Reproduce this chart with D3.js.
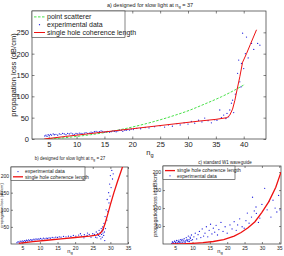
<!DOCTYPE html>
<html>
<head>
<meta charset="utf-8">
<script src="https://cdn.jsdelivr.net/npm/d3@7"></script>
<style>
  body { margin: 0; background: #fff; }
  svg { display: block; font-family: "Liberation Sans", Arial, sans-serif; }
</style>
</head>
<body>
<div id="chart"></div>
<script>
// ---- panel a: designed for slow light at ng = 37
const aTicksX = [5, 10, 15, 20, 25, 30, 35, 40];
const aTicksY = [0, 50, 100, 150, 200, 250];
const aPoint = [[4.5,0],[7,2],[10,6],[12.5,10],[15,15],[17.5,21],[20,28],[22.5,36],[25,45],[27.5,55],[30,66],[33,82],[36,99],[38,112],[40.2,128]];
const aExp = [[4.3,7],[4.5,9],[4.7,6],[4.9,10],[5.1,8],[5.3,11],[5.5,9],[5.8,12],[6.0,10],[6.3,11],[6.6,9],[6.9,12],[7.2,11],[7.5,13],[7.8,12],[8.1,10],[8.4,13],[8.7,12],[9.0,14],[9.3,12],[9.6,11],[9.9,13],[10.2,12],[10.5,14],[10.8,13],[11.1,12],[11.4,14],[11.7,15],[12.0,13],[12.3,14],[12.6,16],[12.9,15],[13.2,17],[13.5,18],[13.8,16],[14.1,17],[14.4,19],[14.7,18],[15.0,16],[15.3,17],[15.6,18],[15.9,16],[16.2,17],[16.5,19],[16.8,18],[17.1,17],[17.4,19],[17.7,21],[18.0,20],[18.3,18],[18.6,21],[18.9,20],[19.2,22],[19.5,21],[19.8,23],[20.2,22],[20.8,25],[21.5,24],[22.3,27],[23.0,26],[24.0,29],[25.0,31],[25.8,28],[26.5,33],[27.2,30],[28.0,36],[28.6,33],[29.3,38],[30.0,35],[30.6,41],[31.2,37],[31.9,44],[32.5,40],[33.0,49],[33.6,43],[34.2,38],[34.8,45],[35.2,44],[35.7,68],[36.0,50],[36.4,56],[36.8,48],[37.0,60],[37.3,52],[37.5,68],[37.8,84],[38.0,91],[38.2,62],[38.5,105],[38.9,154],[39.1,185],[39.3,134],[39.5,122],[39.6,177],[39.8,248],[40.0,165],[40.3,200],[40.5,239],[40.8,190],[41.4,224],[41.8,210],[42.5,224],[42.9,220]];
const aHole = [[4.2,0],[8,6],[12,12],[16,18],[20,24],[24,30],[28,36],[32,42],[35,46],[37,50],[37.5,56],[38,70],[38.4,90],[38.8,115],[39.3,146],[39.8,180],[40.5,200],[41.2,222],[42.3,256]];

// ---- panel b: designed for slow light at ng = 27
const bTicksX = [5, 10, 15, 20, 25, 30, 35];
const bTicksY = [50, 100, 150, 200];
const bExp = [[3.5,4],[3.8,7],[4.1,5],[4.4,8],[4.7,6],[5.0,9],[5.3,7],[5.6,10],[5.9,8],[6.2,11],[6.5,9],[6.8,12],[7.1,10],[7.4,13],[7.7,11],[8.0,12],[8.3,14],[8.6,12],[8.9,15],[9.2,13],[9.5,15],[9.8,14],[10.2,16],[10.6,14],[11.0,17],[11.4,15],[11.8,17],[12.2,16],[12.6,18],[13.0,17],[13.5,19],[14.0,18],[14.5,20],[15.0,19],[15.5,21],[16.0,20],[16.7,22],[17.4,21],[18.1,23],[18.8,22],[19.5,25],[20.2,23],[21.0,26],[21.5,30],[21.8,24],[22.5,18],[22.6,27],[23.4,25],[23.5,32],[24.0,28],[24.5,20],[25.0,30],[25.5,28],[25.8,20],[26.0,35],[26.2,18],[26.4,30],[26.6,25],[26.8,40],[27.0,22],[27.1,33],[27.3,15],[27.4,45],[27.5,28],[27.6,38],[27.7,20],[27.8,50],[27.9,32],[28.0,42],[28.1,25],[28.2,60],[28.3,35],[28.4,10],[28.5,80],[28.6,45],[28.8,100],[29.0,70],[29.1,130],[29.3,95],[29.5,150],[29.6,120],[29.8,175],[29.9,140],[30.0,200],[30.2,165],[30.4,215],[30.6,190],[30.8,205]];
const bHole = [[4,2],[8,7],[12,11],[16,15],[20,19],[24,23],[26,26],[27,30],[27.8,40],[28.5,60],[29.2,85],[30,115],[31,150],[32,182],[33,212],[33.6,230]];

// ---- panel c: standard W1 waveguide
const cTicksX = [5, 10, 15, 20, 25, 30, 35];
const cTicksY = [50, 100, 150, 200];
const cExp = [[4.0,2],[4.2,6],[4.3,5],[4.5,3],[4.6,1],[4.8,8],[4.9,7],[5.1,4],[5.2,3],[5.4,10],[5.5,9],[5.7,2],[5.8,4],[6.0,7],[6.1,11],[6.3,5],[6.4,6],[6.6,12],[6.7,3],[6.9,9],[7.0,13],[7.2,4],[7.3,8],[7.5,11],[7.6,15],[7.8,6],[7.9,5],[8.1,9],[8.2,18],[8.4,13],[8.5,10],[8.7,7],[8.8,22],[9.0,12],[9.1,7],[9.3,19],[9.4,16],[9.6,10],[9.7,25],[10.0,12],[10.4,20],[10.8,30],[11.2,14],[11.6,26],[12.0,35],[12.4,18],[12.8,42],[13.2,22],[13.6,30],[14.0,48],[14.4,20],[14.8,38],[15.2,55],[15.6,28],[16.0,44],[16.4,33],[16.8,52],[17.2,25],[17.6,40],[18.2,60],[18.8,35],[19.4,48],[20.0,30],[20.8,53],[21.4,42],[22.0,62],[22.6,38],[23.0,53],[23.6,70],[24.3,48],[24.9,44],[25.4,65],[25.8,86],[26.3,58],[27.0,75],[27.3,130],[27.8,92],[28.3,103],[28.4,85],[29.0,60],[29.4,72],[30.0,110],[30.8,155],[31.5,95],[32.0,118],[32.6,75],[33.2,122],[33.8,100],[34.3,89],[34.8,135],[35.2,95]];
const cHole = [[4,0],[7,0.5],[10,2],[13,4],[16,7],[19,12],[22,22],[24,32],[26,45],[28,62],[30,88],[32,118],[34,158],[35.5,200]];

const svg = d3.select("#chart").append("svg")
    .attr("width", 284)
    .attr("height", 256);

let clipId = 0;

// write "n" with a subscript "g" inside a text element
function ng(sel, size) {
    sel.append("tspan").text("n");
    sel.append("tspan").attr("dy", "0.3em").style("font-size", (size * 0.75) + "px").text("g");
    return sel;
}

function drawPanel(p) {
    const x = d3.scaleLinear().domain(p.xDomain).range([p.left, p.right]);
    const y = d3.scaleLinear().domain(p.yDomain).range([p.bottom, p.top]);
    const g = svg.append("g");

    // clip to the axes box
    const id = "clip" + (clipId++);
    g.append("clipPath").attr("id", id)
        .append("rect")
        .attr("x", p.left).attr("y", p.top)
        .attr("width", p.right - p.left).attr("height", p.bottom - p.top);

    // axes, MATLAB style ticks pointing inward on all sides
    const tick = p.tick;
    const styleAxis = sel => {
        sel.select(".domain").remove();
        sel.selectAll("line").attr("stroke", "#333").attr("stroke-width", 0.6);
        sel.selectAll("text").attr("fill", "#222").style("font-size", p.tickFont + "px");
    };
    g.append("g")
        .attr("transform", `translate(0,${p.bottom})`)
        .call(d3.axisBottom(x).tickValues(p.ticksX).tickSize(-tick).tickPadding(p.padX))
        .call(styleAxis);
    g.append("g")
        .attr("transform", `translate(0,${p.top})`)
        .call(d3.axisTop(x).tickValues(p.ticksX).tickSize(-tick).tickFormat(""))
        .call(styleAxis);
    g.append("g")
        .attr("transform", `translate(${p.left},0)`)
        .call(d3.axisLeft(y).tickValues(p.ticksY).tickSize(-tick).tickPadding(p.padY))
        .call(styleAxis);
    g.append("g")
        .attr("transform", `translate(${p.right},0)`)
        .call(d3.axisRight(y).tickValues(p.ticksY).tickSize(-tick).tickFormat(""))
        .call(styleAxis);

    g.append("rect")
        .attr("x", p.left).attr("y", p.top)
        .attr("width", p.right - p.left).attr("height", p.bottom - p.top)
        .attr("fill", "none").attr("stroke", "#333").attr("stroke-width", 0.7);

    const plot = g.append("g").attr("clip-path", `url(#${id})`);
    const line = d3.line().x(d => x(d[0])).y(d => y(d[1])).curve(d3.curveMonotoneX);

    if (p.point) {
        plot.append("path").datum(p.point)
            .attr("fill", "none").attr("stroke", "#33dd33")
            .attr("stroke-width", 0.9).attr("stroke-dasharray", "2.5,1.5")
            .attr("d", line);
    }
    plot.selectAll("circle.exp").data(p.exp).enter().append("circle")
        .attr("class", "exp")
        .attr("cx", d => x(d[0])).attr("cy", d => y(d[1]))
        .attr("r", p.dot).attr("fill", "#2222dd");
    plot.append("path").datum(p.hole)
        .attr("fill", "none").attr("stroke", "#ee1111")
        .attr("stroke-width", p.holeWidth)
        .attr("d", d3.line().x(d => x(d[0])).y(d => y(d[1])));

    // title and axis labels
    const t = g.append("text").attr("x", p.titleX).attr("y", p.titleY)
        .attr("text-anchor", "middle").style("font-size", p.titleFont + "px").attr("fill", "#222");
    t.append("tspan").text(p.title);
    if (p.titleNg) {
        ng(t, p.titleFont);
        t.append("tspan").attr("dy", "-0.3em").text(" = " + p.titleNg);
    }
    ng(g.append("text").attr("x", p.xLabelX).attr("y", p.xLabelY)
        .attr("text-anchor", "middle").style("font-size", p.labelFont + "px").attr("fill", "#222"), p.labelFont);
    g.append("text")
        .attr("transform", `translate(${p.yLabelX},${(p.top + p.bottom) / 2}) rotate(-90)`)
        .attr("text-anchor", "middle").style("font-size", p.yLabelFont + "px").attr("fill", "#222")
        .text(p.yLabel);

    // legend
    const lg = g.append("g");
    lg.append("rect")
        .attr("x", p.left).attr("y", p.top)
        .attr("width", p.legendW).attr("height", p.legendRow * p.legend.length + 3)
        .attr("fill", "#fff").attr("stroke", "#333").attr("stroke-width", 0.6);
    p.legend.forEach((item, i) => {
        const cy = p.top + 2 + p.legendRow * (i + 0.5);
        const x0 = p.left + 2, x1 = x0 + p.legendLine;
        if (item.type === "dash") {
            lg.append("line").attr("x1", x0).attr("x2", x1).attr("y1", cy).attr("y2", cy)
                .attr("stroke", "#33dd33").attr("stroke-width", 0.9).attr("stroke-dasharray", "2.5,1.5");
        } else if (item.type === "dot") {
            lg.append("circle").attr("cx", (x0 + x1) / 2).attr("cy", cy).attr("r", p.dot).attr("fill", "#2222dd");
        } else {
            lg.append("line").attr("x1", x0).attr("x2", x1).attr("y1", cy).attr("y2", cy)
                .attr("stroke", "#ee1111").attr("stroke-width", p.holeWidth);
        }
        lg.append("text").attr("x", x1 + 2).attr("y", cy).attr("dy", "0.35em")
            .style("font-size", p.legendFont + "px").attr("fill", "#222")
            .text(item.label);
    });
}

drawPanel({
    left: 32, right: 266, top: 11, bottom: 139,
    xDomain: [2, 44], yDomain: [0, 300],
    ticksX: aTicksX, ticksY: aTicksY,
    tick: 2.5, tickFont: 7.5, padX: 3, padY: 3,
    point: aPoint, exp: aExp, hole: aHole, dot: 0.65, holeWidth: 1,
    title: "a) designed for slow light at ", titleNg: "37", titleX: 150, titleY: 7, titleFont: 5.5,
    xLabelX: 150, xLabelY: 155, labelFont: 7.5,
    yLabel: "propagation loss (dB/cm)", yLabelX: 16, yLabelFont: 7.5,
    legendW: 93, legendRow: 7.8, legendLine: 11, legendFont: 7,
    legend: [
        { type: "dash", label: "point scatterer" },
        { type: "dot", label: "experimental data" },
        { type: "line", label: "single hole coherence length" }
    ]
});

drawPanel({
    left: 11, right: 128, top: 167, bottom: 244,
    xDomain: [1.8, 35], yDomain: [0, 225],
    ticksX: bTicksX, ticksY: bTicksY,
    tick: 2, tickFont: 5, padX: 2, padY: 2,
    exp: bExp, hole: bHole, dot: 0.65, holeWidth: 1.3,
    title: "b) designed for slow light at ", titleNg: "27", titleX: 70, titleY: 160, titleFont: 4.5,
    xLabelX: 70, xLabelY: 253, labelFont: 5.5,
    yLabel: "propagation loss (dB/cm)", yLabelX: 3.2, yLabelFont: 4,
    legendW: 74, legendRow: 5.2, legendLine: 10, legendFont: 5,
    legend: [
        { type: "dot", label: "experimental data" },
        { type: "line", label: "single hole coherence length" }
    ]
});

drawPanel({
    left: 163, right: 281, top: 166, bottom: 244,
    xDomain: [1.5, 35.5], yDomain: [0, 217],
    ticksX: cTicksX, ticksY: cTicksY,
    tick: 2, tickFont: 5, padX: 2, padY: 2,
    exp: cExp, hole: cHole, dot: 0.65, holeWidth: 1.3,
    title: "c) standard W1 waveguide", titleX: 225, titleY: 164, titleFont: 4.5,
    xLabelX: 220, xLabelY: 253, labelFont: 5.5,
    yLabel: "propagation loss in dB/cm", yLabelX: 157, yLabelFont: 5.5,
    legendW: 72, legendRow: 5.2, legendLine: 10, legendFont: 5,
    legend: [
        { type: "line", label: "single hole coherence length" },
        { type: "dot", label: "experimental data" }
    ]
});
</script>
</body>
</html>
